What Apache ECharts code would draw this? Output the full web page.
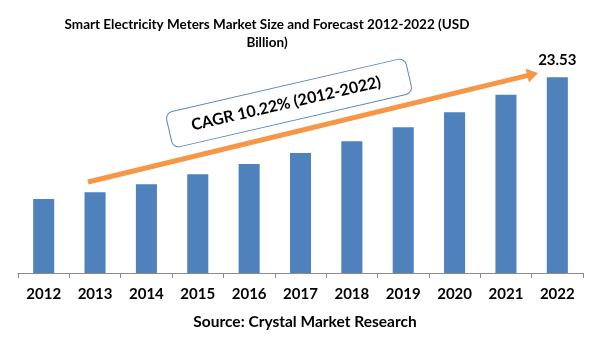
<!DOCTYPE html>
<html>
<head>
<meta charset="utf-8">
<script src="https://cdn.jsdelivr.net/npm/echarts@6/dist/echarts.min.js"></script>
<style>html,body{margin:0;padding:0;background:#fff}#c{width:601px;height:361px}</style>
</head>
<body>
<div id="c"></div>
<script>
var years = ['2012','2013','2014','2015','2016','2017','2018','2019','2020','2021','2022'];
var marketSize = [8.88, 9.72, 10.68, 11.88, 13.09, 14.41, 15.85, 17.53, 19.33, 21.41, 23.53];
var titleText = 'Smart Electricity Meters Market Size and Forecast 2012-2022 (USD\nBillion)';
var sourceText = 'Source: Crystal Market Research';
var cagrText = 'CAGR 10.22% (2012-2022)';

var FONT = 'Lato';
var chart = echarts.init(document.getElementById('c'));
var tip = [538, 73], start = [88, 182];
var dx = tip[0]-start[0], dy = tip[1]-start[1], L = Math.sqrt(dx*dx+dy*dy);
var ux = dx/L, uy = dy/L, nx = -uy, ny = ux;
var headLen = 11, headW = 7;
var base = [tip[0]-ux*headLen, tip[1]-uy*headLen];

chart.setOption({
  animation: false,
  backgroundColor: '#fff',
  title: [{
    text: titleText,
    left: 262, top: 11, textAlign: 'center',
    textStyle: {fontFamily: FONT, fontWeight: 'bold', fontSize: 13.5, color: '#000', lineHeight: 18}
  }, {
    text: sourceText,
    left: 300, top: 309, textAlign: 'center',
    textStyle: {fontFamily: FONT, fontWeight: 'bold', fontSize: 15.5, color: '#000'}
  }],
  grid: {left: 18, right: 18, top: 65, bottom: 88},
  xAxis: {
    type: 'category', data: years,
    axisLine: {lineStyle: {color: '#8c8c8c', width: 1}},
    axisTick: {show: true, length: 5, lineStyle: {color: '#8c8c8c'}},
    axisLabel: {fontFamily: FONT, fontWeight: 'bold', fontSize: 15, color: '#000', margin: 14}
  },
  yAxis: {type: 'value', min: 0, max: 25, show: false, splitLine: {show: false}},
  series: [{
    type: 'bar', data: marketSize, barWidth: '41%',
    itemStyle: {color: '#4F81BD'},
    label: {
      show: true, position: 'top', distance: 10,
      fontFamily: FONT, fontWeight: 'bold', fontSize: 15, color: '#000',
      formatter: function (p) { return p.dataIndex === years.length - 1 ? p.value.toFixed(2) : ''; }
    }
  }],
  graphic: [
    {type: 'line', z: 10, shape: {x1: start[0], y1: start[1], x2: base[0]+ux*2, y2: base[1]+uy*2},
     style: {stroke: '#F79646', lineWidth: 5}},
    {type: 'polygon', z: 10, shape: {points: [tip, [base[0]+nx*headW, base[1]+ny*headW], [base[0]-nx*headW, base[1]-ny*headW]]},
     style: {fill: '#F79646'}},
    {type: 'group', z: 11, x: 289, y: 103, rotation: 13*Math.PI/180, children: [
      {type: 'rect', shape: {x: -123, y: -18, width: 246, height: 36, r: 7},
       style: {fill: '#fff', stroke: '#5B87C0', lineWidth: 1}},
      {type: 'text', style: {text: cagrText, x: -3, y: 0, align: 'center', verticalAlign: 'middle',
        font: 'bold 16px Lato', fill: '#000'}}
    ]}
  ]
});
</script>
</body>
</html>
